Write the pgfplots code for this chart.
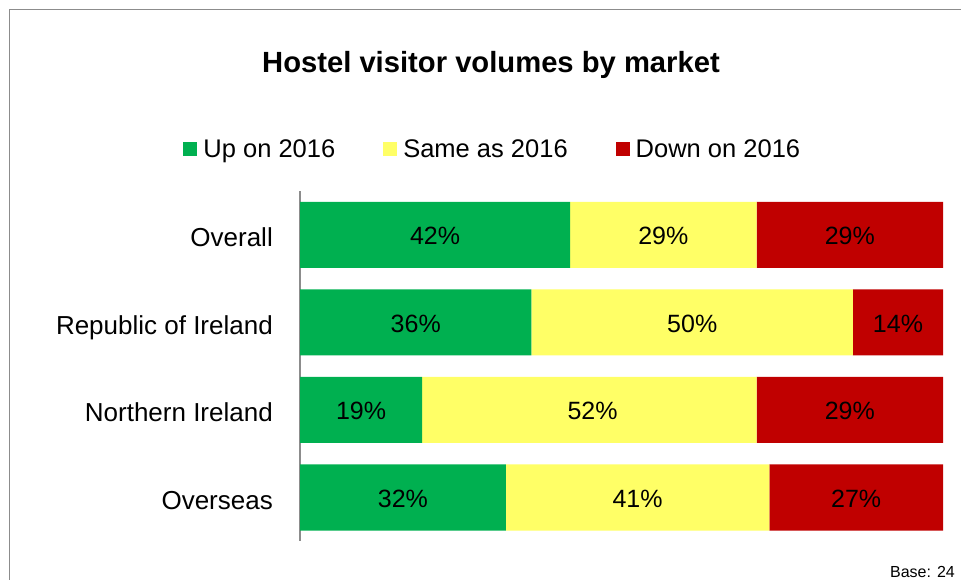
\documentclass[border=0pt]{standalone}
\usepackage{pgfplots}
\usepackage{pgfplotstable}
\pgfplotsset{compat=1.18}
\usepackage{fontspec}
\setmainfont{Liberation Sans}
\definecolor{cgreen}{HTML}{00B050}
\definecolor{cyellow}{HTML}{FFFF66}
\definecolor{cred}{HTML}{C00000}
\definecolor{framegray}{HTML}{8C8C8C}

\pgfplotstableread{
cat up same down
0 42 29 29
1 36 50 14
2 19 52 29
3 32 41 27
}\datatable

\pgfplotstableread{
cat mid val
0 21 42
0 56.5 29
0 85.5 29
1 18 36
1 61 50
1 93 14
2 9.5 19
2 45.5 52
2 85.5 29
3 16 32
3 52.5 41
3 86.5 27
}\labeltable

\pgfplotsset{
  sqlegend/.style={legend image code/.code={\fill[##1] (0pt,-7pt) rectangle (14pt,7pt);}},
  common/.style={
    at={(300pt,38.75pt)}, anchor=south west,
    scale only axis, width=643pt, height=350pt,
    xmin=0, xmax=100, ymin=-0.5, ymax=3.5, y dir=reverse,
  }
}

\begin{document}
\begin{tikzpicture}[x=1pt,y=1pt]
\useasboundingbox (0,0) rectangle (961,580);
\clip (0,0) rectangle (961,580);
\draw[framegray, line width=1.5pt] (9.5,570.5) rectangle (990,-30);
\node[anchor=base, font=\bfseries\fontsize{29.2}{35}\selectfont] at (491,507) {Hostel visitor volumes by market};
\node[anchor=base east, inner sep=0pt, font=\fontsize{16}{19}\selectfont] at (955,2) {Base: 24};

\begin{axis}[common,
  xbar stacked, bar width=66pt,
  axis x line=none, axis y line*=left,
  y axis line style={framegray, line width=2pt},
  ytick={0,1,2,3},
  yticklabels={Overall,Republic of Ireland,Northern Ireland,Overseas},
  major tick length=0pt,
  ytick style={draw=none},
  yticklabel style={font=\fontsize{26}{31}\selectfont, anchor=base east, inner sep=0pt, xshift=-27pt, yshift=-12pt},
  legend columns=3,
  legend style={draw=none, fill=none, at={(0.303,1.1193)}, anchor=center,
    font=\fontsize{25.5}{30}\selectfont,
    nodes={inner xsep=6pt},
    /tikz/every even column/.append style={column sep=42pt}},
]
\addplot[fill=cgreen, draw=none, sqlegend] table[x=up, y=cat] {\datatable};
\addlegendentry{Up on 2016}
\addplot[fill=cyellow, draw=none, sqlegend] table[x=same, y=cat] {\datatable};
\addlegendentry{Same as 2016}
\addplot[fill=cred, draw=none, sqlegend] table[x=down, y=cat] {\datatable};
\addlegendentry{Down on 2016}
\end{axis}

\begin{axis}[common, axis lines=none, ticks=none,
  /pgf/number format/assume math mode=true]
\addplot[only marks, mark=none, point meta=explicit,
  nodes near coords={\pgfmathprintnumber{\pgfplotspointmeta}\%},
  every node near coord/.append style={anchor=base, yshift=-10pt, inner sep=0pt, text=black, font=\fontsize{25}{30}\selectfont}]
  table[x=mid, y=cat, meta=val] {\labeltable};
\end{axis}
\end{tikzpicture}
\end{document}
